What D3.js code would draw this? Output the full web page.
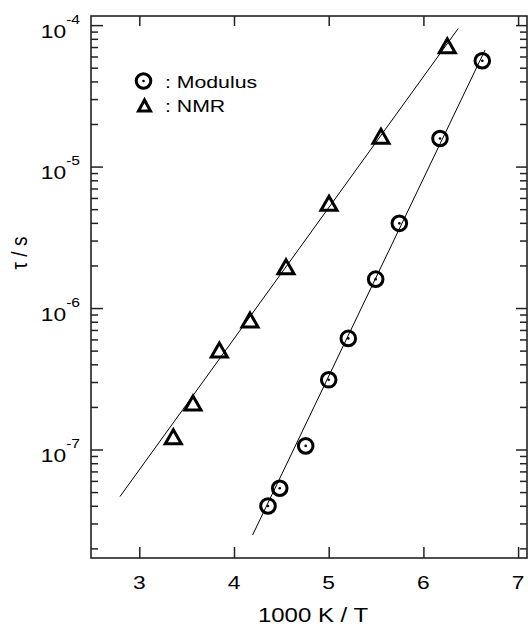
<!DOCTYPE html>
<html><head><meta charset="utf-8">
<script src="https://cdn.jsdelivr.net/npm/d3@7"></script>
<style>
body{margin:0;background:#fff}
svg{display:block}
text{font-family:"Liberation Sans",Arial,Helvetica,sans-serif;fill:#000}
</style>
</head><body>
<svg id="c" width="528" height="626"></svg>
<script>
// ---- data ----
const modulusX   = [4.359, 4.483, 4.757, 5.000, 5.207, 5.496, 5.746, 6.175, 6.622];
const modulusTau = [3.99e-8, 5.32e-8, 1.06e-7, 3.11e-7, 6.1e-7, 1.6e-6, 3.97e-6, 1.58e-5, 5.6e-5];
const nmrX       = [3.359, 3.567, 3.845, 4.169, 4.549, 5.003, 5.552, 6.252];
const nmrTau     = [1.23e-7, 2.13e-7, 5.05e-7, 8.22e-7, 1.96e-6, 5.5e-6, 1.64e-5, 7.14e-5];
const modulusFitX   = [4.197, 6.650];
const modulusFitTau = [2.49e-8, 6.65e-5];
const nmrFitX   = [2.796, 6.368];
const nmrFitTau = [4.65e-8, 9.47e-5];
const xTicks = [3, 4, 5, 6, 7];
const yTickExponents = [-4, -5, -6, -7];
const legendLabels = [": Modulus", ": NMR"];
const xTitle = "1000 K / T";
const yTitle = "\u03c4 / s";

// ---- layout ----
const L = 91, R = 527, T = 16, B = 558;
const SX = 1.2; // horizontal stretch of glyphs in the reference
const svg = d3.select("#c");
const x = d3.scaleLinear().domain([2.49, 7.094]).range([L, R]);
const y = d3.scaleLog().domain([1.71e-8, 1.16e-4]).range([B, T]);

const majors = yTickExponents.map(e => Math.pow(10, e));
const minors = [];
for (let e = -8; e <= -4; e++) for (let m = 2; m <= 9; m++) {
  const v = m * Math.pow(10, e);
  if (v >= y.domain()[0] && v <= y.domain()[1]) minors.push(v);
}

const axStroke = "#222";
function styleAxis(g){ g.select(".domain").remove(); g.selectAll("line").attr("stroke", axStroke).attr("stroke-width", 1.5); g.selectAll("text").remove(); }

// bottom & top ticks (inward)
svg.append("g").attr("transform", `translate(0,${B})`)
  .call(d3.axisBottom(x).tickValues(xTicks).tickSizeInner(-11).tickSizeOuter(0)).call(styleAxis);
svg.append("g").attr("transform", `translate(0,${T})`)
  .call(d3.axisTop(x).tickValues(xTicks).tickSizeInner(-10).tickSizeOuter(0)).call(styleAxis);
// left & right ticks (inward)
svg.append("g").attr("transform", `translate(${L},0)`)
  .call(d3.axisLeft(y).tickValues(majors).tickSizeInner(-12).tickSizeOuter(0)).call(styleAxis);
svg.append("g").attr("transform", `translate(${L},0)`)
  .call(d3.axisLeft(y).tickValues(minors).tickSizeInner(-7).tickSizeOuter(0)).call(styleAxis);
svg.append("g").attr("transform", `translate(${R},0)`)
  .call(d3.axisRight(y).tickValues(majors).tickSizeInner(-11).tickSizeOuter(0)).call(styleAxis);
svg.append("g").attr("transform", `translate(${R},0)`)
  .call(d3.axisRight(y).tickValues(minors).tickSizeInner(-7).tickSizeOuter(0)).call(styleAxis);

// frame
svg.append("rect").attr("x", L).attr("y", T).attr("width", R - L).attr("height", B - T)
  .attr("fill", "none").attr("stroke", axStroke).attr("stroke-width", 1.6);

// x tick labels
xTicks.forEach(v => {
  svg.append("text").attr("transform", `translate(${x(v)},${B + 31}) scale(${SX},1)`)
    .attr("text-anchor", "middle").attr("font-size", 19).text(v);
});
// y tick labels 10^e
yTickExponents.forEach(e => {
  const t = svg.append("text").attr("transform", `translate(80,${y(Math.pow(10, e)) + 12.5}) scale(${SX},1)`)
    .attr("text-anchor", "end").attr("font-size", 19);
  t.append("tspan").text("10");
  t.append("tspan").attr("font-size", 13).attr("dy", -14).text(String(e));
});
// axis titles
svg.append("text").attr("transform", `translate(313,622) scale(${SX},1)`)
  .attr("text-anchor", "middle").attr("font-size", 20).text(xTitle);
svg.append("text").attr("transform", `translate(27,253) rotate(-90) scale(1,${SX})`)
  .attr("text-anchor", "middle").attr("font-size", 19).text(yTitle);

// fit lines
const line = d3.line().x(d => x(d[0])).y(d => y(d[1]));
svg.append("path").datum(d3.zip(nmrFitX, nmrFitTau)).attr("d", line)
  .attr("fill", "none").attr("stroke", "#000").attr("stroke-width", 1);
svg.append("path").datum(d3.zip(modulusFitX, modulusFitTau)).attr("d", line)
  .attr("fill", "none").attr("stroke", "#000").attr("stroke-width", 1);

// markers
function circleMark(g, cx, cy){
  g.append("circle").attr("cx", cx).attr("cy", cy).attr("r", 7.3)
    .attr("fill", "none").attr("stroke", "#000").attr("stroke-width", 3);
  g.append("circle").attr("cx", cx).attr("cy", cy).attr("r", 1.3).attr("fill", "#000");
}
function triMark(g, cx, cy, w, h){
  g.append("path").attr("d", `M${cx - w/2},${cy + h/2}L${cx + w/2},${cy + h/2}L${cx},${cy - h/2}Z`)
    .attr("fill", "none").attr("stroke", "#000").attr("stroke-width", 3).attr("stroke-linejoin", "miter");
}
const gm = svg.append("g");
d3.zip(modulusX, modulusTau).forEach(d => circleMark(gm, x(d[0]), y(d[1])));
d3.zip(nmrX, nmrTau).forEach(d => triMark(gm, x(d[0]), y(d[1]), 16, 14));

// legend
circleMark(svg, 143.5, 81);
triMark(svg, 144.5, 105.5, 12, 11);
legendLabels.forEach((s, i) => {
  svg.append("text").attr("transform", `translate(165,${87.5 + i * 24}) scale(1.25,1)`)
    .attr("font-size", 17).text(s);
});
</script>
</body></html>
